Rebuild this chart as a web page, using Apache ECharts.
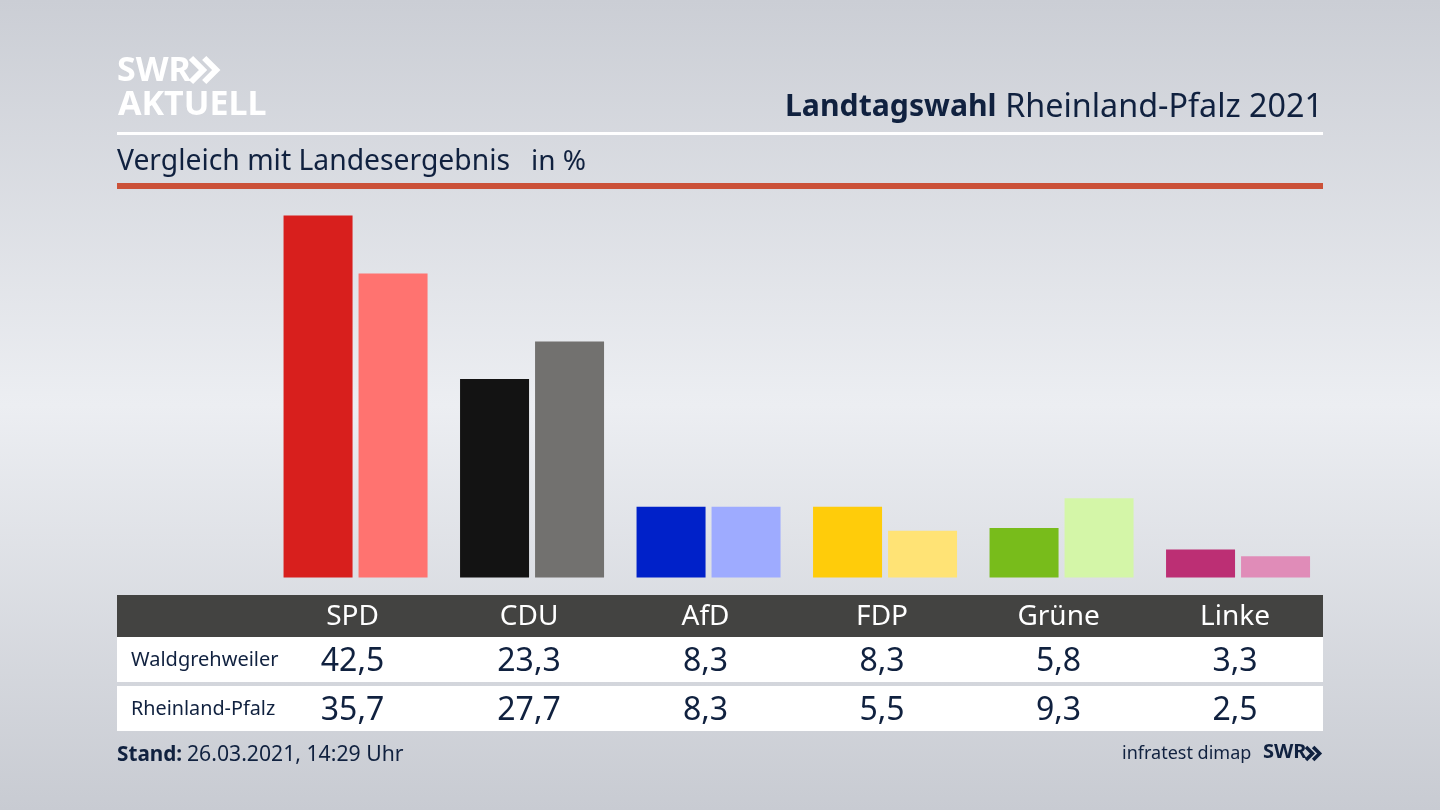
<!DOCTYPE html>
<html>
<head>
<meta charset="utf-8">
<title>Landtagswahl Rheinland-Pfalz 2021</title>
<script src="https://cdn.jsdelivr.net/npm/echarts@6/dist/echarts.min.js"></script>
<style>
  html, body { margin: 0; padding: 0; }
  #main { width: 1440px; height: 810px; }
</style>
</head>
<body>
<div id="main"></div>
<script>
const parteien = ['SPD', 'CDU', 'AfD', 'FDP', 'Grüne', 'Linke'];
const waldgrehweiler = [42.5, 23.3, 8.3, 8.3, 5.8, 3.3];
const rheinlandPfalz = [35.7, 27.7, 8.3, 5.5, 9.3, 2.5];
const farbenOrt = ['#d81f1d', '#131313', '#0021c9', '#ffcc0a', '#78bc1b', '#bc2f74'];
const farbenLand = ['#ff7370', '#72716f', '#9eabff', '#ffe375', '#d4f6a8', '#e08cb8'];

const navy = '#10213f';
const schrift = '"Noto Sans", sans-serif';

const komma = v => v.toFixed(1).replace('.', ',');

// rows of the table are extra x axes, pushed down with offset
// padding moves the labels back 3px: the bars sit right of the column centre
function tabellenAchse(werte, offset, size, color) {
  return {
    type: 'category',
    position: 'bottom',
    offset: offset,
    z: 10,
    data: werte,
    axisLine: { show: false },
    axisTick: { show: false },
    axisLabel: {
      interval: 0, margin: 0, padding: [0, 6, 0, 0],
      fontFamily: schrift, fontSize: size, color: color, verticalAlign: 'middle'
    }
  };
}

function text(left, top, str, size, color, weight) {
  return {
    type: 'text', left: left, top: top, z: 5,
    style: { text: str, font: (weight || 'normal') + ' ' + size + 'px ' + schrift, fill: color }
  };
}

function rect(x, y, w, h, fill) {
  return { type: 'rect', z: 0, shape: { x: x, y: y, width: w, height: h }, style: { fill: fill } };
}

function pfeile(x, y, h, color, lw) {
  const w = h * 0.5;
  return [0, 1].map(i => ({
    type: 'polyline', z: 5,
    shape: { points: [[x + i * h * 0.55, y], [x + i * h * 0.55 + w, y + h / 2], [x + i * h * 0.55, y + h]] },
    style: { stroke: color, lineWidth: lw, fill: null }
  }));
}

var myChart = echarts.init(document.getElementById('main'));

var option = {
  animation: false,
  backgroundColor: {
    type: 'linear', x: 0, y: 0, x2: 0, y2: 1,
    colorStops: [
      { offset: 0, color: '#cbced5' },
      { offset: 0.5, color: '#eceef2' },
      { offset: 1, color: '#c8cbd2' }
    ]
  },
  grid: { left: 267.3, right: 113.7, top: 215.5, height: 362 },
  xAxis: [
    tabellenAchse(parteien, 39.5, 28, '#ffffff'),
    tabellenAchse(waldgrehweiler.map(komma), 84.5, 32, navy),
    tabellenAchse(rheinlandPfalz.map(komma), 133.5, 32, navy)
  ],
  yAxis: { type: 'value', min: 0, max: 42.5, show: false },
  series: [
    {
      name: 'Waldgrehweiler',
      type: 'bar',
      barWidth: 69,
      barGap: '8.7%',
      data: waldgrehweiler.map((v, i) => ({ value: v, itemStyle: { color: farbenOrt[i] } }))
    },
    {
      name: 'Rheinland-Pfalz',
      type: 'bar',
      barWidth: 69,
      barGap: '8.7%',
      data: rheinlandPfalz.map((v, i) => ({ value: v, itemStyle: { color: farbenLand[i] } }))
    }
  ],
  graphic: [
    rect(117, 132, 1206, 3, '#ffffff'),
    rect(117, 183, 1206, 6, '#cb5138'),
    rect(117, 595, 1206, 42, '#434341'),
    rect(117, 637, 1206, 45, '#ffffff'),
    rect(117, 686, 1206, 45, '#ffffff'),
    text(117, 54, 'SWR', 34, '#ffffff', 'bold'),
    text(118, 88, 'AKTUELL', 34, '#ffffff', 'bold'),
    ...pfeile(191, 58, 24, '#ffffff', 6),
    text(785, 92, 'Landtagswahl', 30.2, navy, 'bold'),
    {
      type: 'text', right: 117, top: 92, z: 5,
      style: { text: 'Rheinland-Pfalz 2021', font: 'normal 32.3px ' + schrift, fill: navy }
    },
    text(117, 148, 'Vergleich mit Landesergebnis', 28.3, navy),
    text(531, 148, 'in %', 28, navy),
    text(131, 650, 'Waldgrehweiler', 20, navy),
    text(131, 699, 'Rheinland-Pfalz', 19.8, navy),
    text(117, 745, 'Stand:', 20.7, navy, 'bold'),
    text(187, 744, '26.03.2021, 14:29 Uhr', 21.2, navy),
    text(1122, 745, 'infratest dimap', 18, navy),
    text(1263, 742, 'SWR', 20, navy, 'bold'),
    ...pfeile(1306, 747, 13, navy, 3.5)
  ]
};

option && myChart.setOption(option);
</script>
</body>
</html>
